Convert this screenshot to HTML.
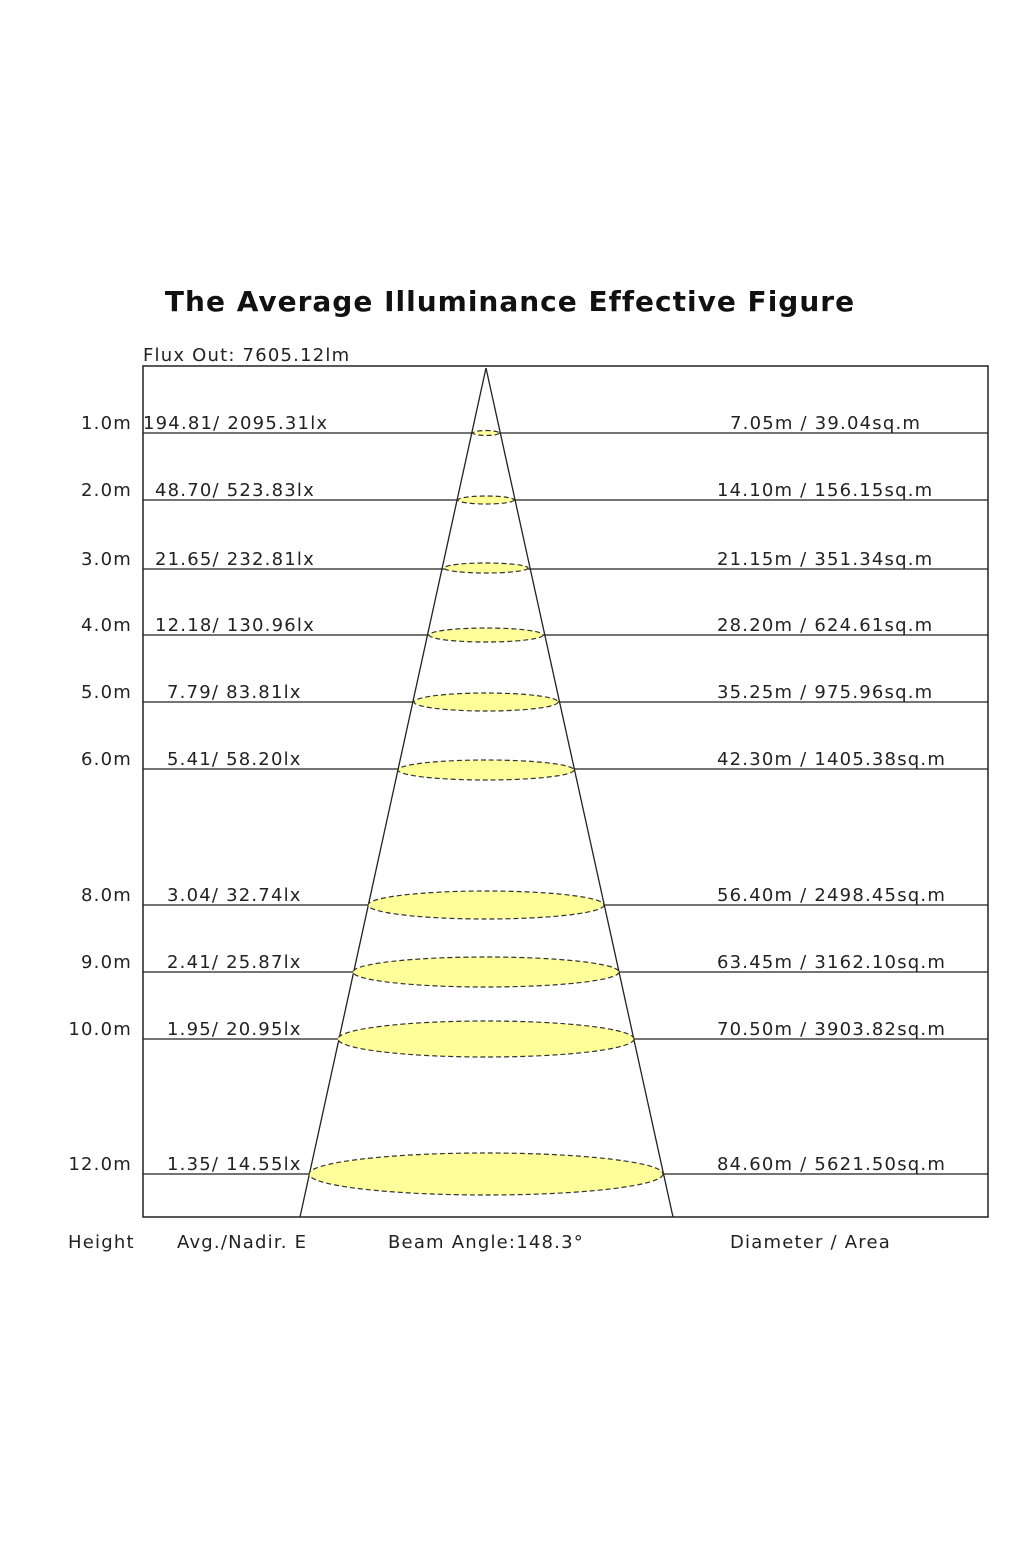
<!DOCTYPE html>
<html><head><meta charset="utf-8"><style>
html,body{margin:0;padding:0;background:#fff;}
svg text{font-family:"DejaVu Sans","Liberation Sans",sans-serif;fill:#222;}
</style></head><body>
<svg width="1024" height="1536" xmlns="http://www.w3.org/2000/svg">
<text x="510" y="311" font-size="28" font-weight="bold" text-anchor="middle" letter-spacing="1" style="fill:#111">The Average Illuminance Effective Figure</text>
<text x="143" y="361" font-size="18" letter-spacing="1.2">Flux Out: 7605.12lm</text>
<rect x="143" y="366" width="845" height="851" fill="none" stroke="#222" stroke-width="1.5"/>
<g stroke="#222" stroke-width="1.3">
<line x1="143" y1="433" x2="988" y2="433"/>
<line x1="143" y1="500" x2="988" y2="500"/>
<line x1="143" y1="569" x2="988" y2="569"/>
<line x1="143" y1="635" x2="988" y2="635"/>
<line x1="143" y1="702" x2="988" y2="702"/>
<line x1="143" y1="769" x2="988" y2="769"/>
<line x1="143" y1="905" x2="988" y2="905"/>
<line x1="143" y1="972" x2="988" y2="972"/>
<line x1="143" y1="1039" x2="988" y2="1039"/>
<line x1="143" y1="1174" x2="988" y2="1174"/>
<line x1="486" y1="368" x2="300" y2="1217"/>
<line x1="486" y1="368" x2="673" y2="1217"/>
</g>
<g fill="#ffff99" stroke="#333" stroke-width="1.2" stroke-dasharray="5,3">
<ellipse cx="486" cy="433" rx="13" ry="2.5"/>
<ellipse cx="486" cy="500" rx="28" ry="4"/>
<ellipse cx="486" cy="568" rx="42" ry="5"/>
<ellipse cx="486" cy="635" rx="57" ry="7"/>
<ellipse cx="486" cy="702" rx="72" ry="9"/>
<ellipse cx="486" cy="770" rx="88" ry="10"/>
<ellipse cx="486" cy="905" rx="118" ry="14"/>
<ellipse cx="486" cy="972" rx="133" ry="15"/>
<ellipse cx="486" cy="1039" rx="148" ry="18"/>
<ellipse cx="486" cy="1174" rx="177" ry="21"/>
</g>
<g font-size="18" letter-spacing="1.2">
<g text-anchor="end">
<text x="132" y="429">1.0m</text><text x="132" y="496">2.0m</text><text x="132" y="565">3.0m</text>
<text x="132" y="631">4.0m</text><text x="132" y="698">5.0m</text><text x="132" y="765">6.0m</text>
<text x="132" y="901">8.0m</text><text x="132" y="968">9.0m</text><text x="132" y="1035">10.0m</text>
<text x="132" y="1170">12.0m</text>
</g>
<text x="143" y="429">194.81/ 2095.31lx</text>
<text x="155" y="496">48.70/ 523.83lx</text>
<text x="155" y="565">21.65/ 232.81lx</text>
<text x="155" y="631">12.18/ 130.96lx</text>
<text x="167" y="698">7.79/ 83.81lx</text>
<text x="167" y="765">5.41/ 58.20lx</text>
<text x="167" y="901">3.04/ 32.74lx</text>
<text x="167" y="968">2.41/ 25.87lx</text>
<text x="167" y="1035">1.95/ 20.95lx</text>
<text x="167" y="1170">1.35/ 14.55lx</text>
<text x="730" y="429">7.05m / 39.04sq.m</text>
<text x="717" y="496">14.10m / 156.15sq.m</text>
<text x="717" y="565">21.15m / 351.34sq.m</text>
<text x="717" y="631">28.20m / 624.61sq.m</text>
<text x="717" y="698">35.25m / 975.96sq.m</text>
<text x="717" y="765">42.30m / 1405.38sq.m</text>
<text x="717" y="901">56.40m / 2498.45sq.m</text>
<text x="717" y="968">63.45m / 3162.10sq.m</text>
<text x="717" y="1035">70.50m / 3903.82sq.m</text>
<text x="717" y="1170">84.60m / 5621.50sq.m</text>
<text x="68" y="1248">Height</text>
<text x="177" y="1248">Avg./Nadir. E</text>
<text x="388" y="1248">Beam Angle:148.3°</text>
<text x="730" y="1248">Diameter / Area</text>
</g>
</svg>
</body></html>
